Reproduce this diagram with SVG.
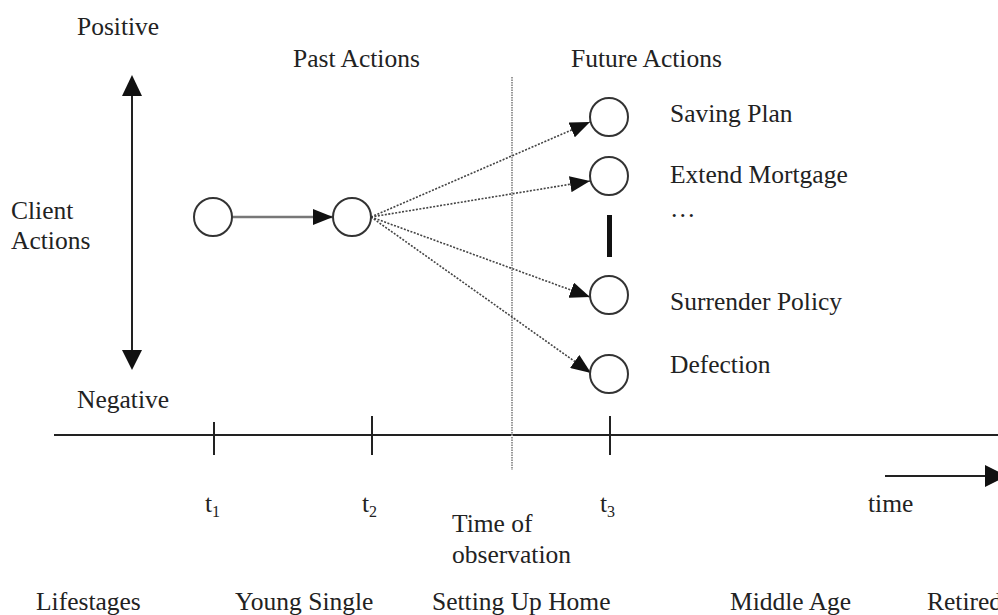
<svg xmlns="http://www.w3.org/2000/svg" width="998" height="615" viewBox="0 0 998 615">
<style>
text{font-family:"Liberation Serif","Times New Roman",serif;font-size:25.5px;fill:#222}
.node{fill:#fff;stroke:#333;stroke-width:2}
.axis{stroke:#222;stroke-width:2;fill:none}
.dot{stroke:#444;stroke-width:1.6;stroke-dasharray:2 1.5;fill:none}
</style>
<defs>
<marker id="ah" markerWidth="20" markerHeight="16" refX="20" refY="8" orient="auto" markerUnits="userSpaceOnUse">
<path d="M0,0 L20,8 L0,16 Z" fill="#111"/>
</marker>
</defs>
<rect width="998" height="615" fill="#fff"/>

<g id="labels">
<text x="77" y="35">Positive</text>
<text x="77" y="408">Negative</text>
<text x="11" y="219">Client</text>
<text x="11" y="249">Actions</text>
<text x="293" y="67">Past Actions</text>
<text x="571" y="67">Future Actions</text>
<text x="670" y="122">Saving Plan</text>
<text x="670" y="183">Extend Mortgage</text>
<text x="670" y="217">…</text>
<text x="670" y="310">Surrender Policy</text>
<text x="670" y="373">Defection</text>
<text x="205" y="512">t<tspan font-size="16" dy="5">1</tspan></text>
<text x="362" y="512">t<tspan font-size="16" dy="5">2</tspan></text>
<text x="600" y="512">t<tspan font-size="16" dy="5">3</tspan></text>
<text x="868" y="512">time</text>
<text x="452" y="532">Time of</text>
<text x="452" y="563">observation</text>
<text x="36" y="610">Lifestages</text>
<text x="235" y="610">Young Single</text>
<text x="432" y="610">Setting Up Home</text>
<text x="730" y="610">Middle Age</text>
<text x="927" y="610">Retired</text>
</g>

<g id="axes">
<line class="axis" x1="132" y1="94" x2="132" y2="352"/>
<path d="M122,96 L132,75 L142,96 Z" fill="#111"/>
<path d="M122,350 L132,370 L142,350 Z" fill="#111"/>
<line class="axis" x1="54" y1="435" x2="998" y2="435"/>
<line class="axis" x1="214" y1="422" x2="214" y2="455"/>
<line class="axis" x1="372" y1="416" x2="372" y2="455"/>
<line class="axis" x1="610" y1="416" x2="610" y2="455"/>
<line class="axis" x1="885" y1="476" x2="990" y2="476"/>
<path d="M985,465 L1007,476 L985,487 Z" fill="#111"/>
<line x1="512" y1="77" x2="512" y2="470" stroke="#999" stroke-width="2" stroke-dasharray="1.5 1"/>
<rect x="607" y="215" width="5" height="42" fill="#111"/>
</g>

<g id="connectors">
<line x1="232" y1="217" x2="333" y2="217" stroke="#777" stroke-width="2.5" marker-end="url(#ah)"/>
<line class="dot" x1="371" y1="217" x2="590" y2="122" marker-end="url(#ah)"/>
<line class="dot" x1="371" y1="217" x2="590" y2="181" marker-end="url(#ah)"/>
<line class="dot" x1="371" y1="217" x2="590" y2="297" marker-end="url(#ah)"/>
<line class="dot" x1="371" y1="217" x2="591" y2="373" marker-end="url(#ah)"/>
</g>

<g id="n1"><circle class="node" cx="213" cy="217" r="19"/></g>
<g id="n2"><circle class="node" cx="352" cy="217" r="19"/></g>
<g id="saving"><circle class="node" cx="609" cy="117" r="19"/></g>
<g id="extend"><circle class="node" cx="609" cy="176" r="19"/></g>
<g id="surrender"><circle class="node" cx="609" cy="295" r="19"/></g>
<g id="defection"><circle class="node" cx="609" cy="374" r="19"/></g>
</svg>
